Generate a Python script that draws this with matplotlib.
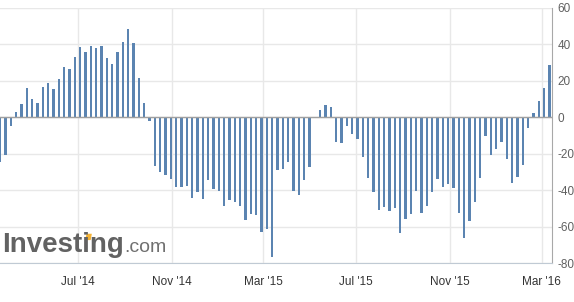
import matplotlib
matplotlib.use("Agg")
import matplotlib.pyplot as plt
import matplotlib.dates as mdates
import matplotlib.patches as mpatches
import pandas as pd
import numpy as np

# weekly values (first week Mar 21 2014, last Mar 11 2016)
values = [
    -24.8, -21.0, -5.1, 2.9, 7.3, 16.0, 10.0, 7.8, 16.6, 18.8,
    15.5, 21.0, 27.6, 26.5, 33.0, 38.5, 35.8, 39.0, 38.0, 39.0,
    32.5, 29.2, 35.8, 41.2, 48.4, 40.7, 21.5, 7.8, -2.4, -27.0,
    -30.3, -31.9, -34.1, -38.5, -38.5, -38.0, -44.5, -41.2, -45.0, -34.7,
    -39.6, -40.7, -48.9, -45.6, -46.7, -48.9, -56.6, -53.3, -53.8, -63.1,
    -61.5, -76.8, -29.2, -28.6, -24.8, -40.7, -42.9, -34.7, -27.6, 0.3,
    4.0, 6.8, 5.7, -13.9, -14.4, -4.6, -9.5, -12.2, -22.1, -33.6,
    -41.2, -51.1, -49.5, -51.6, -50.0, -63.7, -56.0, -53.3, -40.7, -52.7,
    -48.9, -41.2, -34.1, -38.5, -36.9, -39.0, -52.7, -66.4, -57.1, -46.7,
    -33.6, -10.6, -21.0, -17.7, -13.9, -23.2, -36.3, -33.0, -26.5, -5.7,
    2.2, 8.9, 16.0, 28.6,
]
dates = pd.date_range(end="2016-03-11", periods=len(values), freq="W-FRI")

tick_dates = pd.to_datetime(["2014-07-01", "2014-11-01", "2015-03-01",
                             "2015-07-01", "2015-11-01", "2016-03-01"])
tick_labels = ["Jul '14", "Nov '14", "Mar '15", "Jul '15", "Nov '15", "Mar '16"]
y_ticks = [60, 40, 20, 0, -20, -40, -60, -80]

plt.rcParams['font.family'] = ['Liberation Sans', 'DejaVu Sans']

fig = plt.figure(figsize=(5.74, 3.02), dpi=100)
ax = fig.add_axes([0.0, 0.1291, 0.9622, 0.8454])

x = mdates.date2num(dates)
ax.bar(x, values, width=3.1, color='#5b84b1', zorder=3)

ax.set_xlim(x[0] - 0.3, x[-1] + 3.7)
ax.set_ylim(-80, 60)

ax.set_xticks(mdates.date2num(tick_dates))
ax.set_xticklabels(tick_labels, fontsize=8.5, color='#333333')
ax.set_yticks(y_ticks)
ax.set_yticklabels([str(v) for v in y_ticks], fontsize=8.5, color='#606060')
ax.yaxis.tick_right()
ax.tick_params(axis='both', length=0)
ax.tick_params(axis='x', pad=9)
ax.tick_params(axis='y', pad=4)

ax.grid(True, color='#e8e8e8', linewidth=1, zorder=0)
ax.axhline(0, color='#a0a0a0', linewidth=1, zorder=4)

for s in ['top', 'left']:
    ax.spines[s].set_visible(False)
ax.spines['right'].set_color('#a8a8a8')
ax.spines['bottom'].set_color('#c0cad4')

# watermark logo
fig.text(0.004, 0.165, "Investing", fontsize=20, fontweight='bold',
         color='#626262', ha='left', va='baseline')
fig.text(0.216, 0.165, ".com", fontsize=14, color='#707070',
         ha='left', va='baseline')
fig.patches.append(mpatches.Polygon([[0.148, 0.205], [0.158, 0.205],
                                     [0.160, 0.226], [0.151, 0.226]],
                                    closed=True, transform=fig.transFigure,
                                    facecolor='#f5b335', edgecolor='none'))

fig.savefig("out.png", dpi=100)
